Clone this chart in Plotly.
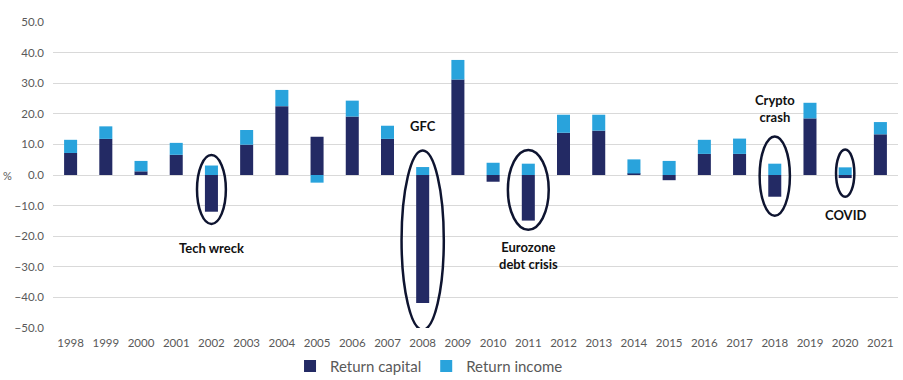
import plotly.graph_objects as go

years = [str(y) for y in range(1998, 2022)]
return_capital = [7.2, 11.8, 1.2, 6.6, -12.0, 9.9, 22.5, 12.5, 19.1, 11.8, -41.8, 31.2,
                  -2.2, -14.9, 13.8, 14.5, 0.5, -1.7, 6.9, 6.9, -7.1, 18.5, -1.0, 13.3]
return_income = [4.3, 4.1, 3.4, 3.9, 3.1, 4.8, 5.3, -2.5, 5.2, 4.3, 2.6, 6.4,
                 4.0, 3.7, 5.9, 5.2, 4.6, 4.6, 4.6, 5.0, 3.7, 5.1, 2.5, 4.0]
y_ticks = [50, 40, 30, 20, 10, 0, -10, -20, -30, -40, -50]

# event highlights: (year, label, half-width in categories, ellipse top, ellipse bottom, label y)
events = [
    ("2002", "Tech wreck", 0.41, 6.5, -16.0, -23.7),
    ("2008", "GFC", 0.60, 8.0, -50.6, 16.1),
    ("2011", "Eurozone<br>debt crisis", 0.58, 8.2, -17.9, -26.3),
    ("2018", "Crypto<br>crash", 0.43, 12.6, -13.3, 21.7),
    ("2020", "COVID", 0.26, 8.3, -7.1, -13.0),
]

NAVY = "#232a64"
LIGHT = "#29a3dc"
FONT = "Lato"

fig = go.Figure()
fig.add_trace(go.Bar(x=years, y=return_capital, name="Return capital",
                     marker=dict(color=NAVY, line=dict(width=0))))
fig.add_trace(go.Bar(x=years, y=return_income, name="Return income",
                     marker=dict(color=LIGHT, line=dict(width=0))))

shapes = []
annotations = []
for yr, label, hw, top, bot, ly in events:
    i = years.index(yr)
    shapes.append(dict(type="circle", xref="x", yref="y",
                       x0=i - hw, x1=i + hw, y0=bot, y1=top,
                       line=dict(color="#0e1430", width=2.5)))
    annotations.append(dict(x=i, y=ly, xref="x", yref="y", text="<b>" + label + "</b>",
                            showarrow=False, font=dict(family=FONT, size=13, color="#111111"),
                            align="center"))

annotations.append(dict(x=0, y=0, xref="paper", yref="y", xanchor="left", xshift=-52,
                        text="%", showarrow=False,
                        font=dict(family=FONT, size=11, color="#595959")))

fig.update_layout(
    width=903, height=380,
    margin=dict(l=53, r=5, t=22, b=52, autoexpand=False),
    barmode="relative",
    bargap=0.63,
    plot_bgcolor="white",
    paper_bgcolor="white",
    font=dict(family=FONT, size=11, color="#595959"),
    showlegend=True,
    legend=dict(orientation="h", x=0.445, xanchor="center", y=-0.125, yanchor="middle",
                font=dict(family=FONT, size=15, color="#595959"),
                itemwidth=30, traceorder="normal"),
    xaxis=dict(type="category", categoryorder="array", categoryarray=years,
               range=[-0.5, len(years) - 0.5], autorange=False, automargin=False,
               showgrid=False, showline=False, ticks="", ticklabelstandoff=6,
               tickfont=dict(family=FONT, size=11.5, color="#595959")),
    yaxis=dict(range=[-50, 50], autorange=False, automargin=False,
               tickvals=y_ticks, tickformat=".1f", ticklabelstandoff=8,
               showgrid=True, gridcolor="#d9d9d9", gridwidth=1,
               zeroline=True, zerolinecolor="#d9d9d9", zerolinewidth=1,
               showline=False, ticks="",
               tickfont=dict(family=FONT, size=11.5, color="#595959")),
    shapes=shapes,
    annotations=annotations,
)

fig.write_html("out.html", config={"displayModeBar": False},
               post_script="document.body.style.margin='0';document.body.style.overflow='hidden';")
